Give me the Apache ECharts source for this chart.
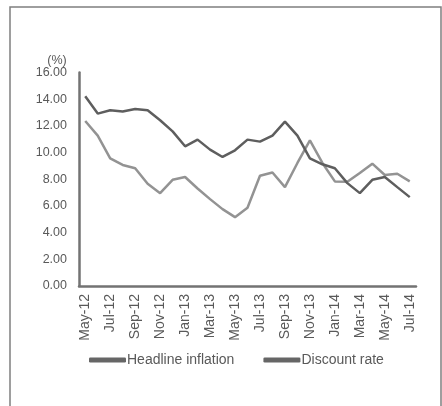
<!DOCTYPE html>
<html>
<head>
<meta charset="utf-8">
<script src="https://cdn.jsdelivr.net/npm/echarts@6/dist/echarts.min.js"></script>
<style>
html,body{margin:0;padding:0;background:#fff;}
#chart{width:442px;height:406px;}
</style>
</head>
<body>
<div id="chart"></div>
<script>
const categories = ['May-12','Jun-12','Jul-12','Aug-12','Sep-12','Oct-12','Nov-12','Dec-12','Jan-13','Feb-13','Mar-13','Apr-13','May-13','Jun-13','Jul-13','Aug-13','Sep-13','Oct-13','Nov-13','Dec-13','Jan-14','Feb-14','Mar-14','Apr-14','May-14','Jun-14','Jul-14'];
const headlineInflation = [14.22,12.92,13.17,13.07,13.27,13.17,12.42,11.59,10.47,10.97,10.22,9.67,10.17,10.97,10.82,11.27,12.32,11.27,9.57,9.12,8.82,7.71,6.96,7.96,8.17,7.41,6.66];
const discountRate = [12.37,11.27,9.57,9.07,8.82,7.66,6.96,7.96,8.17,7.31,6.51,5.76,5.16,5.86,8.26,8.51,7.41,9.22,10.92,9.22,7.84,7.81,8.47,9.17,8.32,8.41,7.84];
const yTicks = [0,2,4,6,8,10,12,14,16];

const chart = echarts.init(document.getElementById('chart'), null, {renderer:'canvas'});
const font = "'Liberation Sans', Arial, sans-serif";
chart.setOption({
  animation:false,
  backgroundColor:'#ffffff',
  graphic:[
    {type:'rect', shape:{x:10,y:7,width:431,height:410}, style:{fill:'none', stroke:'#7f7f7f', lineWidth:1.5}, silent:true},
    {type:'text', x:57, y:61, style:{text:'(%)', fill:'#595959', font:'12.5px '+font, align:'center', verticalAlign:'middle'}}
  ],
  grid:{left:79, right:26, top:72.5, bottom:120},
  legend:{
    left:89, top:353, padding:0,
    itemWidth:37, itemHeight:5, itemGap:29,
    icon:'roundRect',
    textStyle:{color:'#595959', fontSize:14, fontFamily:font, padding:[0,0,0,-4]},
    data:[
      {name:'Headline inflation', itemStyle:{color:'#666666'}},
      {name:'Discount rate', itemStyle:{color:'#666666'}}
    ]
  },
  xAxis:{
    type:'category', data:categories, boundaryGap:true,
    axisLine:{lineStyle:{color:'#737373', width:2.5}},
    axisTick:{show:false},
    axisLabel:{rotate:90, interval:1, margin:8, color:'#595959', fontSize:14, fontFamily:font}
  },
  yAxis:{
    type:'value', min:yTicks[0], max:yTicks[yTicks.length-1], interval:2,
    axisLine:{show:true, lineStyle:{color:'#737373', width:2.5}},
    axisTick:{show:false},
    splitLine:{show:false},
    axisLabel:{margin:12, color:'#595959', fontSize:12.5, fontFamily:font, formatter:v=>v.toFixed(2)}
  },
  series:[
    {name:'Headline inflation', type:'line', data:headlineInflation, symbol:'none', lineStyle:{color:'#5e5e5e', width:2.5}, itemStyle:{color:'#5e5e5e'}, z:3},
    {name:'Discount rate', type:'line', data:discountRate, symbol:'none', lineStyle:{color:'#939393', width:2.5}, itemStyle:{color:'#939393'}, z:2}
  ]
});
</script>
</body>
</html>
